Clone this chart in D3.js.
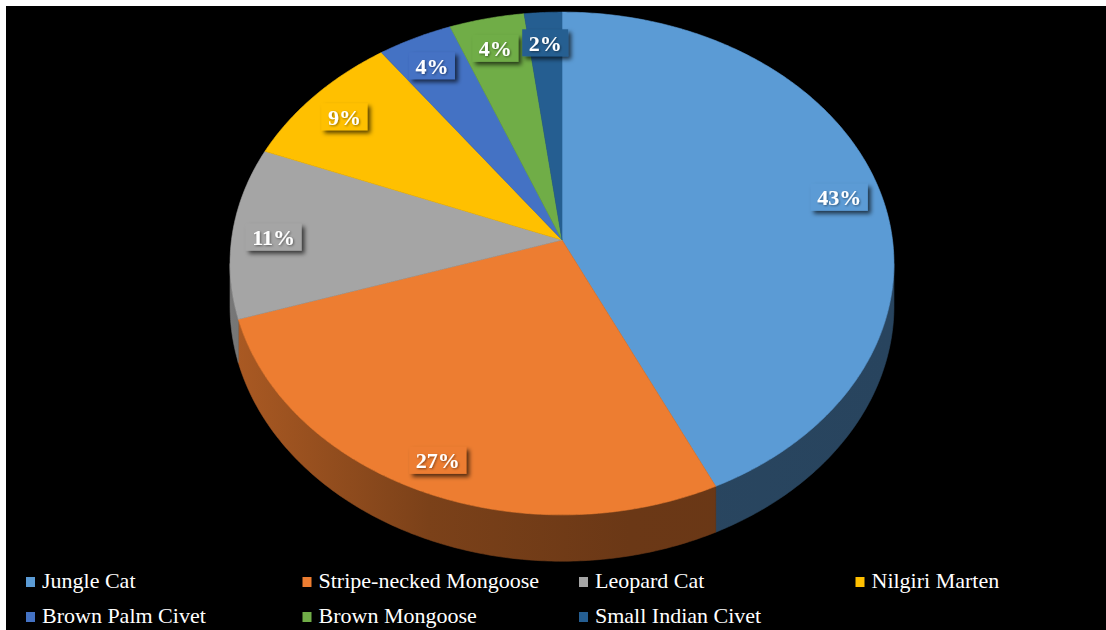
<!DOCTYPE html>
<html>
<head>
<meta charset="utf-8">
<script src="https://cdn.jsdelivr.net/npm/d3@7"></script>
<style>
  html, body { margin: 0; padding: 0; background: #ffffff; }
  svg { display: block; }
</style>
</head>
<body>
<svg id="chart" width="1106" height="630"></svg>
<script>
// Species share of detections
const species = ["Jungle Cat", "Stripe-necked Mongoose", "Leopard Cat", "Nilgiri Marten",
                 "Brown Palm Civet", "Brown Mongoose", "Small Indian Civet"];
const shares = [43, 27, 11, 9, 4, 4, 2];
const colours = ["#5b9bd5", "#ed7d31", "#a5a5a5", "#ffc000", "#4472c4", "#70ad47", "#255e91"];

const W = 1106, H = 630;
const svg = d3.select("#chart");
const serif = "'Liberation Serif', 'Times New Roman', Times, serif";

// page frame
svg.append("rect").attr("x", 6).attr("y", 6).attr("width", W - 6).attr("height", H - 6).attr("fill", "#000");

// perspective disc: centre of disc, horizontal radius, vertical squash, perspective and depth
const cx = 562, cy = 240, s = 330.5, q = 0.754, p = 0.0934, depth = 42;
function proj(theta, r, drop) {
  const w = 1 + p * r * Math.cos(theta);
  return [cx + s * r * Math.sin(theta) / w,
          cy - s * q * r * Math.cos(theta) / w + drop * depth / w];
}

const pie = d3.pie().sort(null).value(d => d)(shares);
const colour = d3.scaleOrdinal().domain(species).range(colours);
const line = d3.line();

const defs = svg.append("defs");
const sh = defs.append("filter").attr("id", "lblShadow").attr("x", "-30%").attr("y", "-30%").attr("width", "170%").attr("height", "170%");
sh.append("feDropShadow").attr("dx", 3).attr("dy", 3).attr("stdDeviation", 2)
  .attr("flood-color", "#000").attr("flood-opacity", 0.65);
const tsh = defs.append("filter").attr("id", "txtShadow");
tsh.append("feDropShadow").attr("dx", 1).attr("dy", 1).attr("stdDeviation", 0.8)
  .attr("flood-color", "#000").attr("flood-opacity", 0.45);

// shaded side walls
const leftX = cx - s * 1.005, rightX = cx + s * 1.005;
pie.forEach((d, i) => {
  const g = defs.append("linearGradient").attr("id", "wall" + i)
    .attr("gradientUnits", "userSpaceOnUse").attr("x1", leftX).attr("x2", rightX).attr("y1", 0).attr("y2", 0);
  const base = d3.rgb(colours[i]);
  [[0, 0.72], [0.3, 0.52], [0.6, 0.45], [1, 0.44]].forEach(([o, f]) => {
    g.append("stop").attr("offset", o)
      .attr("stop-color", d3.rgb(base.r * f, base.g * f, base.b * f).formatHex());
  });
});

const vis0 = Math.acos(-p), vis1 = 2 * Math.PI - vis0;
const walls = svg.append("g");
pie.forEach((d, i) => {
  const b0 = Math.max(d.startAngle, vis0), b1 = Math.min(d.endAngle, vis1);
  if (b1 <= b0) return;
  const n = Math.max(4, Math.ceil((b1 - b0) / 0.01));
  const top = d3.range(n + 1).map(k => proj(b0 + (b1 - b0) * k / n, 1, 0));
  const bot = d3.range(n + 1).map(k => proj(b1 - (b1 - b0) * k / n, 1, 1));
  walls.append("path").attr("d", line(top.concat(bot)) + "Z")
    .attr("fill", `url(#wall${i})`).attr("stroke", `url(#wall${i})`).attr("stroke-width", 0.6);
});

// top faces
const faces = svg.append("g");
pie.forEach((d, i) => {
  const n = Math.max(4, Math.ceil((d.endAngle - d.startAngle) / 0.01));
  const pts = [[cx, cy]].concat(d3.range(n + 1).map(k =>
    proj(d.startAngle + (d.endAngle - d.startAngle) * k / n, 1, 0)));
  faces.append("path").attr("d", line(pts) + "Z")
    .attr("fill", colour(species[i])).attr("stroke", colour(species[i])).attr("stroke-width", 0.6);
});

// percentage labels
const labels = svg.append("g");
pie.forEach((d, i) => {
  const mid = (d.startAngle + d.endAngle) / 2;
  const [lx, ly0] = proj(mid, 0.875, 0);
  const ly = ly0 + 4;
  const g = labels.append("g");
  const box = g.append("rect").attr("fill", colour(species[i])).attr("filter", "url(#lblShadow)");
  const t = g.append("text").attr("x", lx).attr("y", ly + 8)
    .attr("text-anchor", "middle")
    .attr("font-family", serif)
    .attr("font-weight", "bold").attr("font-size", 22).attr("fill", "#fff")
    .attr("filter", "url(#txtShadow)")
    .text(shares[i] + "%");
  const tw = t.node().getComputedTextLength();
  box.attr("x", lx - tw / 2 - 6.5).attr("y", ly - 13.5).attr("width", tw + 13).attr("height", 27);
});

// legend
const legX = d3.scalePoint().domain([0, 1, 2, 3]).range([26, 855.5]);
const legY = d3.scalePoint().domain([0, 1]).range([588, 623]);
const legend = svg.append("g");
species.forEach((name, i) => {
  const c = i % 4, r = Math.floor(i / 4);
  const x = legX(c), y = legY(r);
  legend.append("rect").attr("x", x).attr("y", y - 11).attr("width", 9).attr("height", 10)
    .attr("fill", colour(name));
  legend.append("text").attr("x", x + 16).attr("y", y)
    .attr("font-family", serif)
    .attr("font-size", 22).attr("fill", "#fff").text(name);
});
</script>
</body>
</html>
